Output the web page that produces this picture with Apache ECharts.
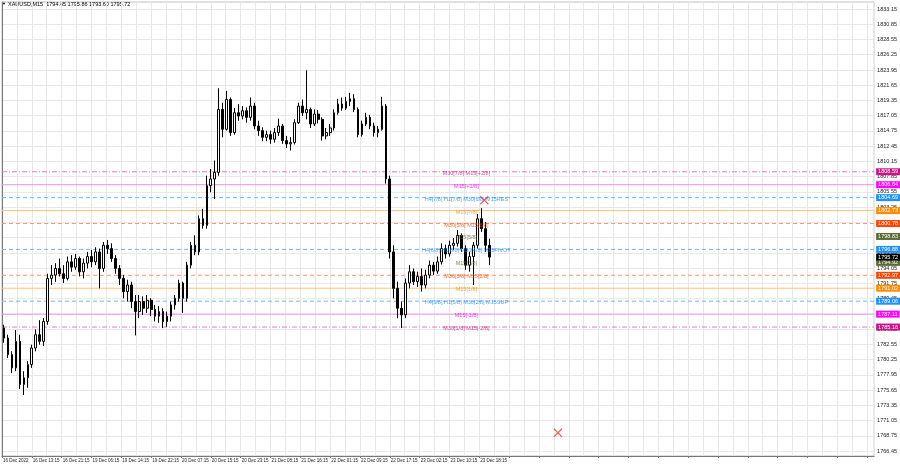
<!DOCTYPE html>
<html><head><meta charset="utf-8">
<script src="https://cdn.jsdelivr.net/npm/echarts@6/dist/echarts.min.js"></script>
<style>html,body{margin:0;padding:0;background:#fff}#c{width:900px;height:468px}</style>
</head><body><div id="c"></div>
<script>
const xTickLabels = ['16 Dec 2022','16 Dec 13:15','16 Dec 21:15','19 Dec 06:15','19 Dec 14:15','19 Dec 22:15','20 Dec 07:15','20 Dec 15:15','20 Dec 23:15','21 Dec 08:15','21 Dec 16:15','22 Dec 01:15','22 Dec 09:15','22 Dec 17:15','23 Dec 02:15','23 Dec 10:15','23 Dec 18:15'];

const opens = [1785.0,1783.5,1781.0,1779.0,1783.0,1776.5,1777.5,1779.5,1782.0,1784.0,1783.0,1786.0,1792.5,1793.0,1794.0,1793.2,1792.5,1795.0,1794.2,1795.5,1793.5,1794.8,1795.8,1795.0,1796.5,1794.0,1797.5,1797.0,1795.5,1794.0,1792.5,1790.5,1791.5,1789.0,1787.5,1789.0,1788.0,1789.2,1787.8,1786.8,1787.5,1786.0,1786.8,1788.5,1789.5,1791.8,1789.5,1794.5,1797.5,1796.5,1801.5,1800.5,1806.5,1807.5,1808.5,1818.0,1815.0,1819.5,1814.5,1817.5,1817.0,1817.8,1816.8,1818.5,1815.5,1814.8,1813.8,1814.2,1813.5,1814.5,1815.5,1813.3,1812.8,1813.0,1816.0,1818.5,1817.5,1818.0,1815.8,1817.3,1816.5,1814.0,1814.5,1815.2,1817.5,1818.8,1818.2,1819.2,1819.6,1818.0,1814.2,1815.8,1816.8,1815.5,1814.5,1815.0,1818.5,1807.5,1796.5,1791.0,1788.0,1787.0,1791.8,1793.5,1792.0,1792.8,1791.5,1793.0,1794.5,1793.6,1795.0,1797.0,1796.2,1797.5,1797.8,1799.0,1797.0,1794.5,1795.8,1797.5,1801.5,1800.0,1797.5];
const closes = [1783.5,1781.0,1779.0,1783.0,1776.5,1777.5,1779.5,1782.0,1784.0,1783.0,1786.0,1792.5,1793.0,1794.0,1793.2,1792.5,1795.0,1794.2,1795.5,1793.5,1794.8,1795.8,1795.0,1796.5,1794.0,1797.5,1797.0,1795.5,1794.0,1792.5,1790.5,1791.5,1789.0,1787.5,1789.0,1788.0,1789.2,1787.8,1786.8,1787.5,1786.0,1786.8,1788.5,1789.5,1791.8,1789.5,1794.5,1797.5,1796.5,1801.5,1800.5,1806.5,1807.5,1808.5,1818.0,1815.0,1819.5,1814.5,1817.5,1817.0,1817.8,1816.8,1818.5,1815.5,1814.8,1813.8,1814.2,1813.5,1814.5,1815.5,1813.3,1812.8,1813.0,1816.0,1818.5,1817.5,1818.0,1815.8,1817.3,1816.5,1814.0,1814.5,1815.2,1817.5,1818.8,1818.2,1819.2,1819.6,1818.0,1814.2,1815.8,1816.8,1815.5,1814.5,1815.0,1818.5,1807.5,1796.5,1791.0,1788.0,1787.0,1791.8,1793.5,1792.0,1792.8,1791.5,1793.0,1794.5,1793.6,1795.0,1797.0,1796.2,1797.5,1797.8,1799.0,1797.0,1794.5,1795.8,1797.5,1801.5,1800.0,1797.5,1795.72];
const highs = [1785.5,1784.0,1781.5,1784.7,1784.0,1778.5,1780.0,1782.5,1784.8,1786.2,1786.5,1793.2,1794.5,1794.8,1795.5,1794.5,1795.8,1796.0,1796.2,1795.8,1795.5,1796.5,1796.8,1797.2,1797.0,1798.0,1798.3,1797.8,1796.0,1794.5,1793.0,1792.3,1792.0,1790.0,1790.0,1789.8,1790.0,1789.5,1788.5,1788.3,1788.0,1787.5,1789.0,1790.0,1792.3,1792.0,1795.0,1798.0,1799.0,1802.0,1803.0,1808.0,1809.0,1810.3,1821.2,1819.0,1820.8,1819.8,1818.2,1818.8,1818.5,1818.3,1819.8,1819.0,1816.3,1815.3,1814.8,1814.8,1815.2,1816.6,1815.8,1814.0,1813.8,1816.5,1819.0,1819.5,1823.9,1818.3,1818.0,1817.9,1816.8,1815.2,1815.8,1818.0,1819.6,1819.8,1819.9,1820.5,1820.3,1818.3,1816.3,1817.5,1817.2,1816.0,1815.5,1819.9,1818.8,1808.0,1797.5,1792.0,1789.0,1792.5,1794.5,1794.0,1793.5,1794.0,1793.8,1795.2,1795.0,1795.8,1797.8,1797.6,1798.2,1798.6,1799.8,1799.3,1797.5,1796.5,1798.0,1802.2,1803.1,1801.0,1798.5];
const lows = [1782.8,1780.5,1778.2,1778.5,1775.8,1774.9,1776.0,1779.0,1781.5,1782.5,1782.3,1785.5,1791.5,1792.0,1792.8,1791.8,1792.2,1793.5,1793.8,1792.8,1792.5,1794.0,1794.2,1794.5,1791.0,1793.5,1796.2,1795.0,1793.2,1791.5,1789.5,1789.0,1788.0,1783.9,1786.5,1787.0,1787.3,1786.8,1786.0,1785.8,1785.0,1785.2,1786.0,1787.8,1789.0,1787.3,1789.0,1794.0,1796.0,1796.0,1800.0,1800.0,1805.5,1804.5,1808.0,1813.8,1814.8,1814.0,1814.2,1816.3,1816.5,1816.0,1816.3,1815.0,1814.0,1813.2,1813.2,1812.8,1813.0,1814.0,1812.8,1812.2,1811.8,1812.7,1815.8,1817.0,1816.5,1815.2,1815.5,1815.9,1813.3,1813.5,1814.0,1814.8,1817.2,1817.8,1817.9,1818.5,1817.6,1813.8,1813.9,1815.5,1815.0,1813.9,1813.8,1814.8,1806.8,1795.5,1789.5,1786.5,1785.0,1786.5,1791.0,1791.5,1791.2,1790.5,1791.0,1792.5,1793.0,1793.2,1794.6,1795.5,1795.8,1796.8,1797.3,1796.5,1793.8,1793.5,1791.5,1797.0,1799.5,1796.5,1794.5];

const yTicks = [1833.15,1830.85,1828.55,1826.25,1823.95,1821.65,1819.35,1817.05,1814.75,1812.45,1810.15,1807.85,1805.55,1803.25,1800.95,1798.65,1796.35,1794.05,1791.75,1789.45,1787.15,1784.85,1782.55,1780.25,1777.95,1775.65,1773.35,1771.05,1768.75,1766.45];

const levelValues = [1808.59,1806.64,1804.69,1802.73,1800.78,1798.83,1796.88,1794.92,1792.97,1791.02,1789.06,1787.11,1785.16];
const levelNames = ['M30[7/8] M15[+2/8]','M15[+1/8]','H4[7/8] H1[7/8] M30[6/8] M15RES','M15[7/8]','M30[5/8] M15[6/8]','M15[5/8]','H4[6/8] H1[6/8] M30[4/8] M15PIVOT','M15[3/8]','M30[3/8] M15[2/8]','M15[1/8]','H4[5/8] H1[5/8] M30[2/8] M15SUP','M15[-1/8]','M30[1/8] M15[-2/8]'];
const lastPrice = 1795.72;
const crossMarks = [[121.25, 1804.3],[139.75, 1769.2]];
const headerText = 'XAUUSD,M15  1794.45 1795.86 1793.60 1795.72';

// styles
const FONT = "'Liberation Sans Narrow','Liberation Sans',sans-serif";
const NONE = 'rgba(255,255,255,0)';
const X_MIN = 0, X_MAX = 219.25;
const levelStyles = [
  {c:'#c71585', line:'#de7cc6', type:[5,2,1,2], show:true},
  {c:'#ff00ff', line:'#f58cf5', type:'solid', show:true},
  {c:'#1e90ff', line:'#6fb6f8', type:[4,3], show:true},
  {c:'#ff8c00', line:'#ffc070', type:'solid', show:true},
  {c:'#ff4500', line:'#ff9572', type:[4,3], show:true},
  {c:'#5b6b34', line:NONE, type:'solid', show:false},
  {c:'#1e90ff', line:'#6fb6f8', type:[4,3], show:true},
  {c:'#5b6b34', line:NONE, type:'solid', show:false},
  {c:'#ff4500', line:'#ff9572', type:[4,3], show:true},
  {c:'#ff8c00', line:'#ffc070', type:'solid', show:true},
  {c:'#1e90ff', line:'#6fb6f8', type:[4,3], show:true},
  {c:'#ff00ff', line:'#f58cf5', type:'solid', show:true},
  {c:'#c71585', line:'#de7cc6', type:[5,2,1,2], show:true}
];
const LABEL_X = 116.75;
const GRID = '#e8e8e8';

const candleData = closes.map((c, i) => [i + 0.5, opens[i], c, lows[i], highs[i]]);

const tagLabel = (bg) => ({
  show: true, position: 'end', distance: 2,
  formatter: p => Number(p.value).toFixed(2),
  color: '#fff', backgroundColor: bg, padding: [1, 2, 0, 2],
  fontSize: 5.5, fontFamily: FONT
});

// level lines drawn as line series spanning the x extent; tags via transparent markLine
const levelSeries = levelValues.map((v, i) => ({
  type: 'line',
  data: levelStyles[i].show ? [[X_MIN, v], [X_MAX, v]] : [],
  showSymbol: false,
  symbol: 'none',
  silent: true,
  z: 3,
  lineStyle: {color: levelStyles[i].line, type: levelStyles[i].type, width: 1},
  markLine: {
    silent: true, symbol: ['none', 'none'], animation: false,
    lineStyle: {color: NONE},
    label: tagLabel(levelStyles[i].c),
    data: [{yAxis: v}]
  }
}));
levelSeries.push({
  type: 'line', data: [], silent: true,
  markLine: {silent: true, symbol: ['none', 'none'], animation: false,
    lineStyle: {color: NONE}, label: tagLabel('#000'), data: [{yAxis: lastPrice}]}
});

const chart = echarts.init(document.getElementById('c'), null, {renderer: 'canvas'});
chart.setOption({
  animation: false,
  backgroundColor: '#fff',
  textStyle: {fontFamily: FONT},
  graphic: [{
    type: 'text', left: 2, top: 2,
    style: {text: '\u25BC', fontSize: 4, fill: '#000', fontFamily: FONT}
  }, {
    type: 'text', left: 8, top: 1,
    style: {text: headerText, fontSize: 5.5, fill: '#000', fontFamily: FONT}
  }],
  grid: {left: 0, right: 23, top: 2, bottom: 12, show: true, borderColor: '#c0c0c0', borderWidth: 1},
  xAxis: {
    type: 'value', min: X_MIN, max: X_MAX, interval: 7.5,
    axisLine: {show: true, lineStyle: {color: '#777'}},
    axisTick: {show: true, length: 2, lineStyle: {color: '#777'}},
    axisLabel: {
      show: true, showMinLabel: true, showMaxLabel: false, hideOverlap: false, align: 'left', margin: 2,
      fontSize: 4.5, color: '#222', fontFamily: FONT, padding: [0, 0, 0, 1],
      formatter: v => { const k = Math.round(v / 7.5); return xTickLabels[k] || ''; }
    },
    splitLine: {show: true, lineStyle: {color: GRID}},
    minorTick: {show: false, splitNumber: 2},
    minorSplitLine: {show: true, lineStyle: {color: GRID}}
  },
  yAxis: {
    type: 'value', position: 'right', min: 1765.70, max: 1834.21, scale: true,
    axisLine: {show: true, lineStyle: {color: '#777'}},
    axisTick: {show: false, customValues: yTicks},
    axisLabel: {show: true, customValues: yTicks, margin: 3, fontSize: 5.5, color: '#222', fontFamily: FONT,
      formatter: v => Number(v).toFixed(2)},
    splitLine: {show: true, lineStyle: {color: GRID}}
  },
  series: [{
    type: 'candlestick',
    data: candleData,
    encode: {x: 0, y: [1, 2, 3, 4]},
    barWidth: 2.2,
    z: 4,
    itemStyle: {color: '#ffffff', color0: '#000000', borderColor: '#000000', borderColor0: '#000000', borderWidth: 1}
  }].concat(levelSeries, [{
    type: 'scatter',
    symbolSize: 0,
    silent: true,
    data: levelValues.map((v, i) => ({
      value: [LABEL_X, v],
      label: {show: true, position: 'inside', offset: [0, 1.5], formatter: levelNames[i],
        color: levelStyles[i].c, fontSize: 5.5, fontFamily: FONT}
    })),
    z: 5
  }, {
    type: 'scatter',
    silent: true,
    symbol: 'path://M0,1L1,0L5,4L9,0L10,1L6,5L10,9L9,10L5,6L1,10L0,9L4,5Z',
    symbolSize: 9,
    itemStyle: {color: '#e53935'},
    data: crossMarks,
    z: 6
  }])
});
</script></body></html>
